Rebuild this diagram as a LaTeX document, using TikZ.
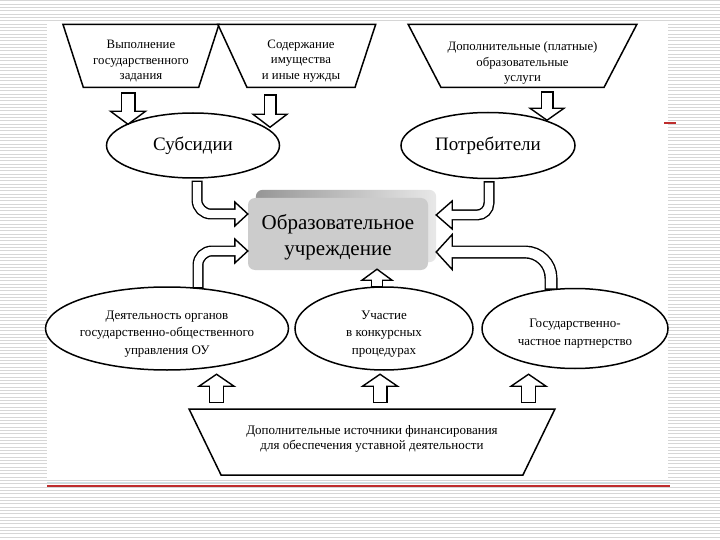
\documentclass[tikz,border=0pt]{standalone}
\usepackage{fontspec}
\setmainfont{Liberation Serif}
\usetikzlibrary{shapes.geometric, calc, backgrounds}
\definecolor{cStripe}{RGB}{214,214,214}
\definecolor{cRule}{RGB}{190,45,45}
\definecolor{cCyan}{RGB}{205,228,232}
\definecolor{cFront}{RGB}{204,204,204}
\definecolor{cTop}{RGB}{150,150,150}
\definecolor{cSide}{RGB}{232,232,232}
\tikzset{
	funnel/.style={trapezium, shape border rotate=180, trapezium stretches=true, draw=black, line width=1.5pt, fill=white, align=center, inner sep=0pt, font=\fontsize{12.8}{15.5}\selectfont},
	oval/.style={ellipse, draw=black, line width=1.5pt, fill=white, align=center, inner sep=0pt},
	orgbox/.style={rectangle, rounded corners=7pt, fill=cFront, minimum width=180, minimum height=72, align=center, font=\fontsize{21}{26}\selectfont},
	stripe/.style={cStripe, line width=1pt},
}
% invisible struts to move text inside a shape
\newcommand{\pushdown}[1]{\rule{0pt}{#1pt}}
\newcommand{\pushup}[1]{\rule[-#1pt]{0pt}{1pt}}
% hollow block arrow: path, tip, angle, shaft width, head width, head length
\newcommand{\hollowarrow}[6]{%
	\draw[line width=#4pt, shorten >=#6pt] #1;
	\filldraw[fill=white, line width=1.4pt, line join=miter, shift={#2}, rotate=#3] (0,0) -- (-#6,#5/2) -- (-#6,-#5/2) -- cycle;
	\draw[white, line width=#4pt-2.8pt, shorten <=1.4pt, shorten >=#6pt-1.4pt] #1;
}

\begin{document}
\begin{tikzpicture}[x=1pt, y=-1pt]
	\useasboundingbox (0,0) rectangle (720,540);

	% funding sources (top)
	\node[funnel, minimum width=156, minimum height=63, trapezium left angle=72, trapezium right angle=72] (vyp) at (141,56) {\pushdown{18.5}Выполнение\\государственного\\задания};
	\node[funnel, minimum width=158, minimum height=63, trapezium left angle=74, trapezium right angle=68] (sod) at (301,56) {\pushdown{18.5}Содержание\\имущества\\и иные нужды};
	\node[funnel, minimum width=229, minimum height=63, trapezium left angle=62, trapezium right angle=62] (usl) at (522.5,56) {\pushdown{23}Дополнительные (платные)\\образовательные\\услуги};

	\node[oval, minimum width=173, minimum height=65, font=\fontsize{19}{20}\selectfont] (sub) at (193,145.5) {Субсидии};
	\node[oval, minimum width=174, minimum height=66, font=\fontsize{19}{20}\selectfont] (potr) at (488,145.5) {Потребители};

	\node[orgbox] (ou) at (338,234) {\pushdown{22.5}Образовательное\\учреждение};

	\node[oval, inner xsep=-6pt, minimum width=243, minimum height=83, font=\fontsize{13}{17.5}\selectfont] (dey) at (167,328.5) {\pushdown{19}Деятельность органов\\государственно-общественного\\управления ОУ};
	\node[oval, minimum width=178, minimum height=83, font=\fontsize{13}{17.5}\selectfont] (uch) at (384,328.5) {\pushdown{19}Участие\\в конкурсных\\процедурах};
	\node[oval, minimum width=186, minimum height=80, font=\fontsize{13}{18}\selectfont] (gos) at (575,328.5) {\pushdown{18}Государственно-\\частное партнерство};

	\node[funnel, minimum width=366, minimum height=66, trapezium left angle=51.5, trapezium right angle=51.5, font=\fontsize{13}{15.5}\selectfont] (ist) at (372,442) {Дополнительные источники финансирования\\для обеспечения уставной деятельности\pushup{9}};

	% slide background and box depth
	\begin{scope}[on background layer]
		\foreach \k in {0,...,162}
			\draw[stripe] (0,1+\k*3.33) -- (720,1+\k*3.33);
		\fill[white] (47,22) rectangle (668,480);
		\draw[cCyan, line width=0.8pt] (47,482.5) -- (670,482.5);
		\draw[cRule, line width=1.2pt] (47,486) -- (670,486);
		\draw[cRule, line width=1.2pt] (664,123) -- (676,123);
		\shade[left color=cTop, right color=cSide, rounded corners=7pt] ($(ou.south west)+(8,-8)$) rectangle ($(ou.north east)+(8,-8)$);
	\end{scope}

	% top arrows
	\coordinate (a1s) at ($(vyp.south)+(-13,4)$);
	\coordinate (a1t) at ($(a1s)+(0,32)$);
	\coordinate (a2s) at ($(sod.south)+(-31,6)$);
	\coordinate (a2t) at ($(a2s)+(0,33)$);
	\coordinate (a3s) at ($(usl.south)+(24.5,3)$);
	\coordinate (a3t) at ($(a3s)+(0,29)$);
	\hollowarrow{(a1s) -- (a1t)}{(a1t)}{-90}{15}{35}{13}
	\hollowarrow{(a2s) -- (a2t)}{(a2t)}{-90}{13}{34}{13}
	\hollowarrow{(a3s) -- (a3t)}{(a3t)}{-90}{13}{34}{12}

	% into the institution
	\coordinate (l1s) at ($(sub.south)+(4,2)$);
	\coordinate (l1t) at ($(ou.west)+(0,-20)$);
	\coordinate (r1s) at ($(potr.south)+(1,2)$);
	\coordinate (r1t) at ($(ou.east)+(8,-19)$);
	\coordinate (l2s) at ($(dey.north)+(31,2)$);
	\coordinate (l2t) at ($(ou.west)+(0,17)$);
	\coordinate (r2s) at ($(gos.north)+(-24,2)$);
	\coordinate (r2t) at ($(ou.east)+(8,18)$);
	\coordinate (ms) at ($(uch.north)+(-7,1)$);
	\coordinate (mt) at ($(ou.south)+(39,-1)$);
	\hollowarrow{(l1s) [rounded corners=14pt] |- (l1t)}{(l1t)}{0}{11}{24}{13}
	\hollowarrow{(r1s) [rounded corners=12pt] |- (r1t)}{(r1t)}{180}{11}{28}{16}
	\hollowarrow{(l2s) [rounded corners=14pt] |- (l2t)}{(l2t)}{0}{11}{24}{13}
	\hollowarrow{(r2s) [rounded corners=26pt] |- (r2t)}{(r2t)}{180}{13}{35}{16}
	\hollowarrow{(ms) -- (mt)}{(mt)}{90}{12}{30}{11}

	% bottom arrows
	\foreach \dx/\nm in {-155.5/b1, 8/b2, 156.5/b3} {
		\coordinate (\nm s) at ($(ist.north)+(\dx,-5)$);
		\coordinate (\nm t) at ($(\nm s)+(0,-29)$);
		\hollowarrow{(\nm s) -- (\nm t)}{(\nm t)}{90}{15}{35}{12}
	}
\end{tikzpicture}
\end{document}
